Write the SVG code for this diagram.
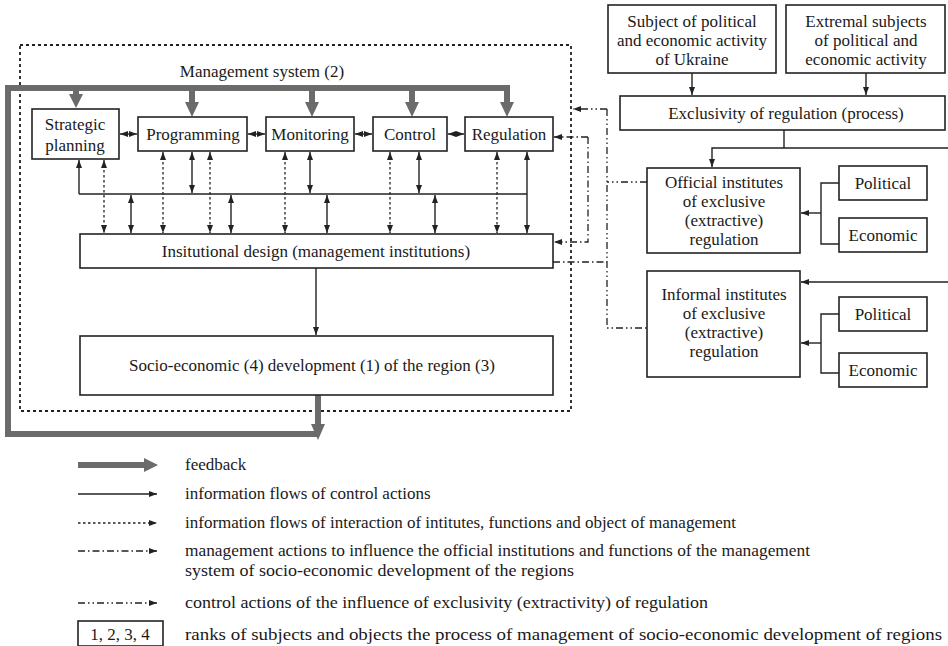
<svg xmlns="http://www.w3.org/2000/svg" width="948" height="646" viewBox="0 0 948 646" font-family="'Liberation Serif', serif">
<defs>
<style>
text{font-family:'Liberation Serif','Times New Roman',serif;fill:#1a1a1a;}
.t17{font-size:17px;text-anchor:middle;}
.lg{font-size:17px;}
.box{fill:#fff;stroke:#222;stroke-width:1.6;}
.fb{fill:none;stroke:#6b6b6b;stroke-width:6;}
.fbh{fill:#6b6b6b;}
.s{fill:none;stroke:#222;stroke-width:1.4;}
.d{fill:none;stroke:#222;stroke-width:1.3;stroke-dasharray:2.5 2.5;}
.frame{fill:none;stroke:#222;stroke-width:1.8;stroke-dasharray:3 3;}
.dd{fill:none;stroke:#222;stroke-width:1.3;stroke-dasharray:7 3 1.5 3;}
.ddd{fill:none;stroke:#222;stroke-width:1.3;stroke-dasharray:7 3 1.5 3 1.5 3;}
.b{marker-start:url(#a);marker-end:url(#a);}
.e{marker-end:url(#a);}
</style>
<marker id="a" viewBox="0 0 8 6" refX="8" refY="3" markerWidth="8" markerHeight="6" markerUnits="userSpaceOnUse" orient="auto-start-reverse">
<path d="M0,0 L8,3 L0,6 z" fill="#222"/>
</marker>
</defs>

<rect class="frame" x="20" y="45" width="551" height="366"/>
<text class="t17" x="262" y="77">Management system (2)</text>

<g id="connectors">
<!-- feedback loop -->
<path class="fb" d="M318,395 L318,426 M318,434 L8,434 L8,88 L510,88"/>
<path class="fb" d="M76,88 V96 M192,88 V104 M312,88 V104 M412,88 V104 M507,88 V104"/>
<path class="fbh" d="M69,94 L83,94 L76,108 z M185,102 L199,102 L192,117 z M305,102 L319,102 L312,117 z M405,102 L419,102 L412,117 z M500,102 L514,102 L507,117 z M311,424 L325,424 L318,440 z"/>
<!-- horizontal double arrows between function boxes -->
<path class="s b" d="M120,134 H137"/>
<path class="s b" d="M248,134 H265"/>
<path class="s b" d="M355,134 H372"/>
<path class="s b" d="M448,134 H464"/>
<!-- bus -->
<path class="s" d="M79,194 H527"/>
<path class="s e" d="M79,194 V160"/>
<path class="s b" d="M192,152 V193"/>
<path class="s b" d="M310,152 V193"/>
<path class="s b" d="M419,152 V193"/>
<path class="s b" d="M131,195 V233"/>
<path class="s b" d="M231,195 V233"/>
<path class="s b" d="M327,195 V233"/>
<path class="s b" d="M435,195 V233"/>
<path class="s b" d="M527,152 V233"/>
<!-- dotted double arrows -->
<path class="d b" d="M104,160 V233"/>
<path class="d b" d="M163,152 V233"/>
<path class="d b" d="M210,152 V233"/>
<path class="d b" d="M285,152 V233"/>
<path class="d b" d="M390,152 V233"/>
<path class="d b" d="M497,152 V233"/>
<!-- inst to socio -->
<path class="s e" d="M316,268 V335"/>
<!-- right side -->
<path class="s e" d="M692,73 V95"/>
<path class="s e" d="M866,73 V95"/>
<path class="s" d="M784,130 V148"/>
<path class="s e" d="M948,148 H712 V167"/>
<path class="s" d="M839,183 H821 V244 H839"/>
<path class="s e" d="M821,213 H801"/>
<path class="s e" d="M948,282 H801"/>
<path class="s" d="M839,314 H821 V373 H839"/>
<path class="s e" d="M821,343 H801"/>
<!-- dash-dot: management actions -->
<path class="dd e" d="M588,137 H554"/>
<path class="dd e" d="M588,137 V242 H554"/>
<!-- dash-dot-dot: exclusivity influence -->
<path class="ddd e" d="M607,109 H573"/>
<path class="ddd" d="M607,109 V328 H647"/>
<path class="ddd" d="M647,182 H607"/>
<path class="dd" d="M553,262 H607"/>
</g>

<g id="strategic"><rect class="box" x="32" y="109" width="87" height="50"/><text class="t17" x="75" y="130">Strategic</text><text class="t17" x="75" y="151">planning</text></g>
<g id="programming"><rect class="box" x="138" y="117" width="109" height="34"/><text class="t17" x="193" y="140">Programming</text></g>
<g id="monitoring"><rect class="box" x="266" y="117" width="88" height="34"/><text class="t17" x="310" y="140">Monitoring</text></g>
<g id="control"><rect class="box" x="373" y="117" width="74" height="34"/><text class="t17" x="410" y="140">Control</text></g>
<g id="regulation"><rect class="box" x="465" y="117" width="88" height="34"/><text class="t17" x="509" y="140">Regulation</text></g>
<g id="institutional"><rect class="box" x="80" y="234" width="473" height="34"/><text class="t17" x="316" y="257">Insitutional design (management institutions)</text></g>
<g id="socio"><rect class="box" x="80" y="336" width="473" height="59"/><text class="t17" x="312" y="371">Socio-economic (4) development (1) of the region (3)</text></g>

<g id="subject"><rect class="box" x="608" y="5" width="168" height="68"/><text class="t17" x="692" y="27">Subject of political</text><text class="t17" x="692" y="46">and economic activity</text><text class="t17" x="692" y="65">of Ukraine</text></g>
<g id="extremal"><rect class="box" x="786" y="5" width="159" height="68"/><text class="t17" x="866" y="27">Extremal subjects</text><text class="t17" x="866" y="46">of political and</text><text class="t17" x="866" y="65">economic activity</text></g>
<g id="exclusivity"><rect class="box" x="620" y="96" width="325" height="34"/><text class="t17" x="786" y="119">Exclusivity of regulation (process)</text></g>
<g id="official"><rect class="box" x="647" y="168" width="153" height="85"/><text class="t17" x="724" y="188">Official institutes</text><text class="t17" x="724" y="207">of exclusive</text><text class="t17" x="724" y="226">(extractive)</text><text class="t17" x="724" y="245">regulation</text></g>
<g id="political1"><rect class="box" x="839" y="166" width="88" height="34"/><text class="t17" x="883" y="189">Political</text></g>
<g id="economic1"><rect class="box" x="839" y="218" width="88" height="34"/><text class="t17" x="883" y="241">Economic</text></g>
<g id="informal"><rect class="box" x="647" y="271" width="153" height="106"/><text class="t17" x="724" y="300">Informal institutes</text><text class="t17" x="724" y="319">of exclusive</text><text class="t17" x="724" y="338">(extractive)</text><text class="t17" x="724" y="357">regulation</text></g>
<g id="political2"><rect class="box" x="839" y="297" width="88" height="34"/><text class="t17" x="883" y="320">Political</text></g>
<g id="economic2"><rect class="box" x="839" y="353" width="88" height="34"/><text class="t17" x="883" y="376">Economic</text></g>

<g id="legend">
<path class="fb" d="M78,465 H146"/>
<path class="fbh" d="M144,458 L158,465 L144,472 z"/>
<path class="s e" d="M78,494 H157"/>
<path class="d e" d="M78,523 H157"/>
<path class="dd e" d="M78,551 H157"/>
<path class="ddd e" d="M78,603 H157"/>
<rect class="box" x="78" y="621" width="85" height="25"/>
<text class="t17" x="120" y="640">1, 2, 3, 4</text>
<text class="lg" x="185" y="470">feedback</text>
<text class="lg" x="185" y="499">information flows of control actions</text>
<text class="lg" x="185" y="528">information flows of interaction of intitutes, functions and object of management</text>
<text class="lg" x="185" y="556" textLength="625" lengthAdjust="spacingAndGlyphs">management actions to influence the official institutions and functions of the management</text>
<text class="lg" x="185" y="576" textLength="389" lengthAdjust="spacingAndGlyphs">system of socio-economic development of the regions</text>
<text class="lg" x="185" y="608" textLength="523" lengthAdjust="spacingAndGlyphs">control actions of the influence of exclusivity (extractivity) of regulation</text>
<text class="lg" x="185" y="640" textLength="757" lengthAdjust="spacingAndGlyphs">ranks of subjects and objects the process of management of socio-economic development of regions</text>
</g>
</svg>
